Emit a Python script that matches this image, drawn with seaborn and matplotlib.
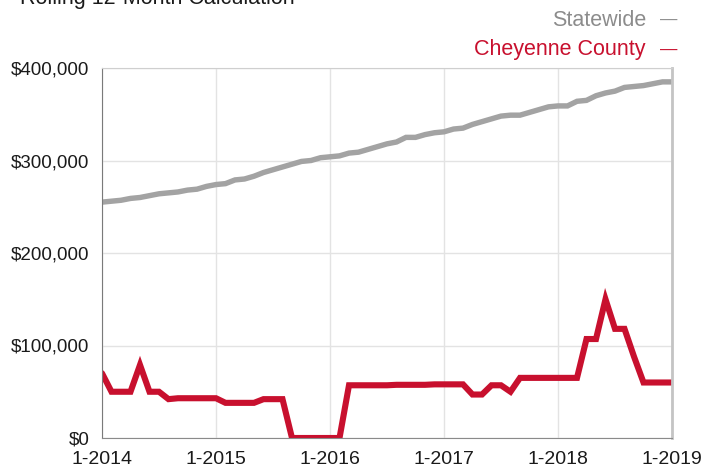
import numpy as np
import pandas as pd
import seaborn as sns
import matplotlib.pyplot as plt

# monthly rolling 12-month values, 1-2014 .. 1-2019
statewide = [255, 256, 257, 259, 260, 262, 264, 265, 266, 268, 269, 272,
             274, 275, 279, 280, 283, 287, 290, 293, 296, 299, 300, 303,
             304, 305, 308, 309, 312, 315, 318, 320, 325, 325, 328, 330,
             331, 334, 335, 339, 342, 345, 348, 349, 349, 352, 355, 358,
             359, 359, 364, 365, 370, 373, 375, 379, 380, 381, 383, 385,
             385]
cheyenne = [70, 50, 50, 50, 79, 50, 50, 42, 43, 43, 43, 43,
            43, 38, 38, 38, 38, 42, 42, 42, 0, 0, 0, 0,
            0, 0, 57, 57, 57, 57, 57, 57.5, 57.5, 57.5, 57.5, 58,
            58, 58, 58, 47, 47, 57, 57, 50, 65, 65, 65, 65,
            65, 65, 65, 107, 107, 150, 118, 118, 88, 60, 60, 60,
            60]
year_labels = ["1-2014", "1-2015", "1-2016", "1-2017", "1-2018", "1-2019"]
y_ticks = [0, 100000, 200000, 300000, 400000]

GRAY = "#a3a3a3"
RED = "#c8102e"

df = pd.DataFrame({
    "month": np.arange(len(statewide)),
    "Statewide": np.array(statewide) * 1000,
    "Cheyenne County": np.array(cheyenne) * 1000,
})
long = df.melt(id_vars="month", var_name="area", value_name="price")

sns.set_style("white")
plt.rcParams["font.family"] = ["Liberation Sans", "DejaVu Sans"]

fig = plt.figure(figsize=(7.04, 4.70), dpi=100)
ax = fig.add_axes([102 / 704, 32 / 470, 570 / 704, 370 / 470])

sns.lineplot(data=long, x="month", y="price", hue="area",
             palette={"Statewide": GRAY, "Cheyenne County": RED},
             linewidth=3.9, legend=False, ax=ax)
for ln in ax.lines:
    ln.set_solid_joinstyle("miter")
ax.lines[1].set_linewidth(4.4)

ax.set_xlim(0, 60)
ax.set_ylim(0, 400000)
ax.set_xticks(np.arange(0, 61, 12))
ax.set_xticklabels(year_labels)
ax.set_yticks(y_ticks)
ax.set_yticklabels(["${:,.0f}".format(v) for v in y_ticks])
ax.set_xlabel("")
ax.set_ylabel("")

ax.grid(True, color="#e3e3e3", linewidth=1)
ax.set_axisbelow(True)
ax.tick_params(axis="both", colors="#888888", labelcolor="#1a1a1a",
               length=6, width=1, direction="out")
ax.tick_params(axis="x", labelsize=14, pad=3)
ax.tick_params(axis="y", labelsize=13.5, pad=3)

ax.spines["left"].set_color("#7a7a7a")
ax.spines["bottom"].set_color("#8a8a8a")
ax.spines["top"].set_color("#cfcfcf")
ax.spines["right"].set_color("#c4c4c4")
ax.spines["right"].set_linewidth(2)
for s in ax.spines.values():
    s.set_visible(True)

# title sits partly above the top edge, as in the source image
fig.text(20 / 704, 1 - 4 / 470, "Rolling 12-Month Calculation",
         fontsize=15.5, color="#1a1a1a", ha="left", va="baseline")

# hand-made legend at top right
for label, col, ypx in [("Statewide", "#8c8c8c", 20), ("Cheyenne County", RED, 50)]:
    fig.text(646 / 704, 1 - ypx / 470, label, fontsize=15.5,
             color=col, ha="right", va="center")
    fig.text(677 / 704, 1 - ypx / 470, "\u2014", fontsize=12.5,
             color=col, ha="right", va="center")

fig.savefig("out.png", dpi=100)
